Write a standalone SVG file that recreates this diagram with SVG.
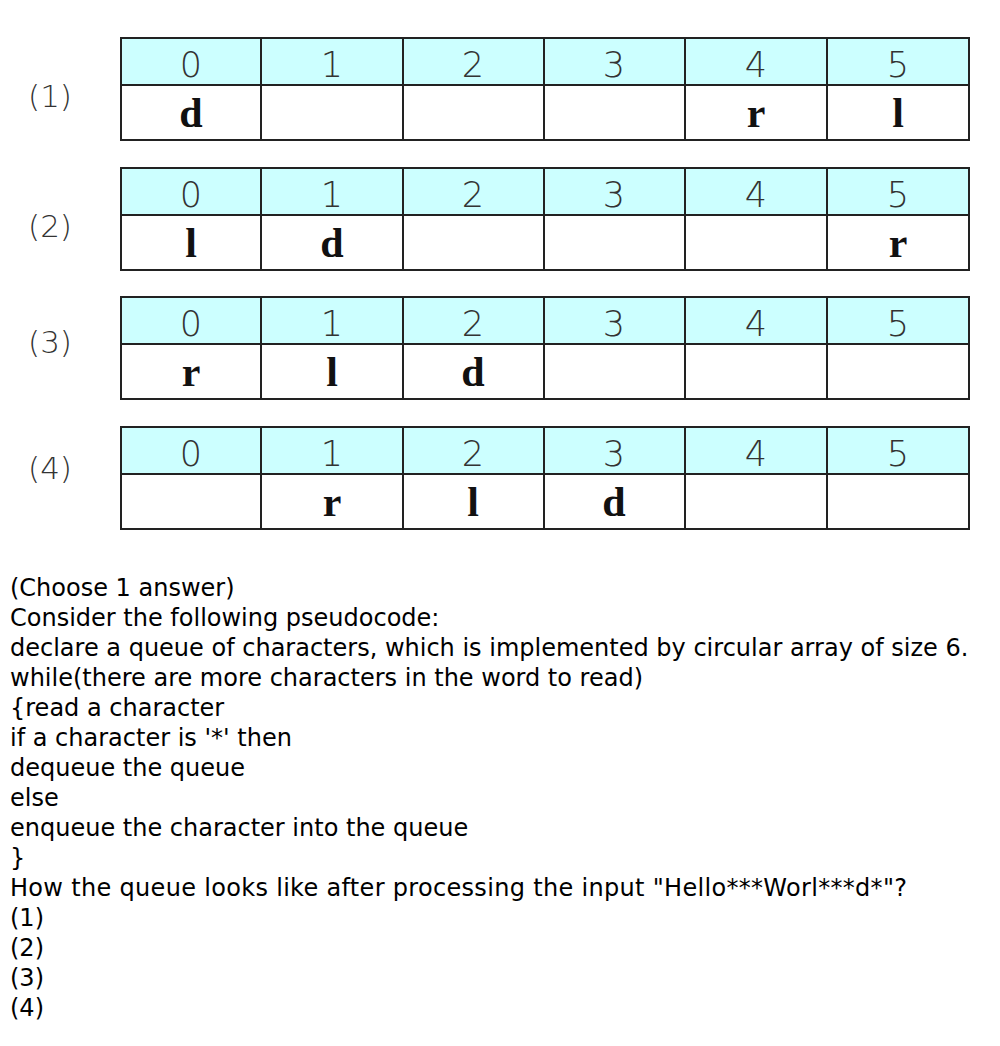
<svg xmlns="http://www.w3.org/2000/svg" width="1000" height="1046" viewBox="0 0 1000 1046">
<style>
.hdr{fill:#ccffff;stroke:none}
.cell{fill:#ffffff;stroke:none}
.grid{stroke:#222;stroke-width:2;fill:none}
.idx{font-family:"DejaVu Sans",sans-serif;font-weight:200;font-size:35px;fill:#333;text-anchor:middle}
.val{font-family:"Liberation Serif",serif;font-weight:bold;font-size:42px;fill:#111;text-anchor:middle}
.lbl{font-family:"DejaVu Sans",sans-serif;font-weight:200;font-size:31px;fill:#333;text-anchor:middle}
.q{font-family:"DejaVu Sans",Verdana,sans-serif;font-size:24px;fill:#000}
</style>
<rect width="1000" height="1046" fill="#fff"/>
<defs>
<g id="tbl">
<rect class="hdr" x="121" y="0" width="848" height="47"/>
<rect class="cell" x="121" y="47" width="848" height="55"/>
<rect class="grid" x="121" y="0" width="848" height="102"/>
<line class="grid" x1="121" y1="47" x2="969" y2="47"/>
<line class="grid" x1="261" y1="0" x2="261" y2="102"/>
<line class="grid" x1="403" y1="0" x2="403" y2="102"/>
<line class="grid" x1="544" y1="0" x2="544" y2="102"/>
<line class="grid" x1="685" y1="0" x2="685" y2="102"/>
<line class="grid" x1="827" y1="0" x2="827" y2="102"/>
<text class="idx" x="191" y="39">0</text>
<text class="idx" x="332" y="39">1</text>
<text class="idx" x="473" y="39">2</text>
<text class="idx" x="614" y="39">3</text>
<text class="idx" x="756" y="39">4</text>
<text class="idx" x="898" y="39">5</text>
</g>
</defs>
<g id="table1" transform="translate(0,38)">
<use href="#tbl"/>
<text class="lbl" x="50" y="69">(1)</text>
<text class="val" x="191" y="89">d</text>
<text class="val" x="756" y="89">r</text>
<text class="val" x="898" y="89">l</text>
</g>
<g id="table2" transform="translate(0,168)">
<use href="#tbl"/>
<text class="lbl" x="50" y="69">(2)</text>
<text class="val" x="191" y="89">l</text>
<text class="val" x="332" y="89">d</text>
<text class="val" x="898" y="89">r</text>
</g>
<g id="table3" transform="translate(0,297)">
<use href="#tbl"/>
<text class="lbl" x="50" y="56">(3)</text>
<text class="val" x="191" y="89">r</text>
<text class="val" x="332" y="89">l</text>
<text class="val" x="473" y="89">d</text>
</g>
<g id="table4" transform="translate(0,427)">
<use href="#tbl"/>
<text class="lbl" x="50" y="52">(4)</text>
<text class="val" x="332" y="89">r</text>
<text class="val" x="473" y="89">l</text>
<text class="val" x="614" y="89">d</text>
</g>
<g id="question" class="q">
<text x="10" y="596">(Choose 1 answer)</text>
<text x="10" y="626">Consider the following pseudocode:</text>
<text x="10" y="656">declare a queue of characters, which is implemented by circular array of size 6.</text>
<text x="10" y="686">while(there are more characters in the word to read)</text>
<text x="10" y="716">{read a character</text>
<text x="10" y="746">if a character is '*' then</text>
<text x="10" y="776">dequeue the queue</text>
<text x="10" y="806">else</text>
<text x="10" y="836">enqueue the character into the queue</text>
<text x="10" y="866">}</text>
<text x="10" y="896" textLength="897" lengthAdjust="spacing">How the queue looks like after processing the input "Hello***Worl***d*"?</text>
<text x="10" y="926">(1)</text>
<text x="10" y="956">(2)</text>
<text x="10" y="986">(3)</text>
<text x="10" y="1016">(4)</text>
</g>
</svg>
